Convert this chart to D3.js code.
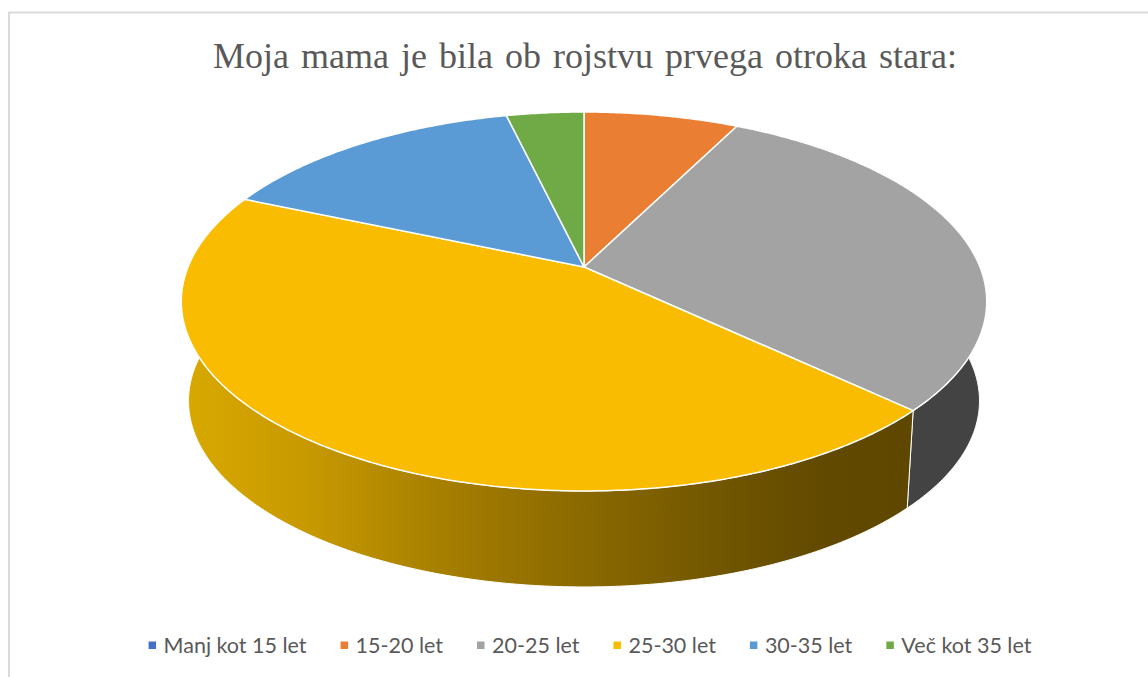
<!DOCTYPE html>
<html>
<head>
<meta charset="utf-8">
<script src="https://cdn.jsdelivr.net/npm/d3@7"></script>
<style>
  html, body { margin: 0; padding: 0; background: #fff; }
  svg { display: block; }
</style>
</head>
<body>
<svg id="chart" width="1148" height="677"></svg>
<script>
const title = 'Moja mama je bila ob rojstvu prvega otroka stara:';
const categories = ['Manj kot 15 let', '15-20 let', '20-25 let', '25-30 let', '30-35 let', 'Več kot 35 let'];
const counts = [0, 2, 8, 12, 4, 1];
const colors = ['#4472c4', '#ea7e33', '#a3a3a3', '#f9bc00', '#5b9bd5', '#6faa47'];
const sideColors = ['#2f5597', '#a85a22', '#434343', '#8a6700', '#3d6f9c', '#4e7a31'];

const width = 1148, height = 677;
const svg = d3.select('#chart');

// frame (right and bottom edges are cut off in the picture)
svg.append('rect')
  .attr('x', 9).attr('y', 12.5)
  .attr('width', width + 20).attr('height', height + 20)
  .attr('fill', '#fff')
  .attr('stroke', '#d9d9d9')
  .attr('stroke-width', 2);

// perspective setup for the tilted pie
const cx = 584, cy = 267;
const rx = 396, ry = 183.2, k = 0.182;
const bottomScale = 0.982, bottomCy = 367;

function project(angle, bottom) {
  const u = Math.sin(angle), v = -Math.cos(angle);
  const w = 1 - k * v;
  const s = bottom ? bottomScale : 1;
  return [cx + s * rx * u / w, (bottom ? bottomCy : cy) + s * ry * v / w];
}

function arcPoints(a0, a1, bottom) {
  const n = Math.max(2, Math.ceil(Math.abs(a1 - a0) / 0.01));
  return d3.range(n + 1).map(i => project(a0 + (a1 - a0) * i / n, bottom));
}

const pie = d3.pie().sort(null).value(d => d.value);
const slices = pie(categories.map((c, i) => ({ name: c, value: counts[i], i })))
  .filter(d => d.value > 0);

const line = d3.line();

// gradient for the lit front wall
const defs = svg.append('defs');
const grad = defs.append('linearGradient')
  .attr('id', 'side-yellow')
  .attr('gradientUnits', 'userSpaceOnUse')
  .attr('x1', 180).attr('x2', 990).attr('y1', 0).attr('y2', 0);
[[0, '#d9a900'], [0.15, '#c99a00'], [0.31, '#a98100'], [0.37, '#9e7800'],
 [0.58, '#7e6000'], [0.72, '#6a5000'], [0.8, '#614900'], [1, '#5c4500']]
  .forEach(([o, c]) => grad.append('stop').attr('offset', o).attr('stop-color', c));

const pieG = svg.append('g');

// outer walls, back to front
const walls = slices.slice().sort((a, b) =>
  -Math.cos((a.startAngle + a.endAngle) / 2) - -Math.cos((b.startAngle + b.endAngle) / 2));

pieG.selectAll('path.wall')
  .data(walls)
  .enter()
  .append('path')
  .attr('class', 'wall')
  .attr('d', d => {
    const top = arcPoints(d.startAngle, d.endAngle, false);
    const bot = arcPoints(d.endAngle, d.startAngle, true);
    return line(top.concat(bot)) + 'Z';
  })
  .attr('fill', d => d.data.i === 3 ? 'url(#side-yellow)' : sideColors[d.data.i])
  .attr('stroke', '#fff')
  .attr('stroke-width', 1)
  .attr('stroke-linejoin', 'round');

// top faces
pieG.selectAll('path.top')
  .data(slices)
  .enter()
  .append('path')
  .attr('class', 'top')
  .attr('d', d => line([[cx, cy]].concat(arcPoints(d.startAngle, d.endAngle, false))) + 'Z')
  .attr('fill', d => colors[d.data.i])
  .attr('stroke', '#fff')
  .attr('stroke-width', 1.5)
  .attr('stroke-linejoin', 'round');

// title
svg.append('text')
  .attr('x', 585)
  .attr('y', 67.5)
  .attr('text-anchor', 'middle')
  .attr('font-family', '"Liberation Serif", "Times New Roman", serif')
  .attr('font-size', 36)
  .attr('word-spacing', 3)
  .attr('fill', '#595959')
  .text(title);

// legend
const legend = svg.append('g').attr('font-family', 'Lato, "Open Sans", sans-serif')
  .attr('font-size', 21.5).attr('fill', '#595959');
const items = legend.selectAll('g')
  .data(categories)
  .enter()
  .append('g');
items.append('rect')
  .attr('width', 7.5).attr('height', 7.5)
  .attr('y', 641.5)
  .attr('fill', (d, i) => colors[i]);
items.append('text')
  .attr('x', 15)
  .attr('y', 652.5)
  .text(d => d);

const widths = [];
items.select('text').each(function () { widths.push(this.getComputedTextLength()); });
const gap = 34;
const total = d3.sum(widths, w => w + 15) + gap * (widths.length - 1);
let x0 = 590 - total / 2;
items.attr('transform', (d, i) => {
  const t = `translate(${x0},0)`;
  x0 += 15 + widths[i] + gap;
  return t;
});
</script>
</body>
</html>
